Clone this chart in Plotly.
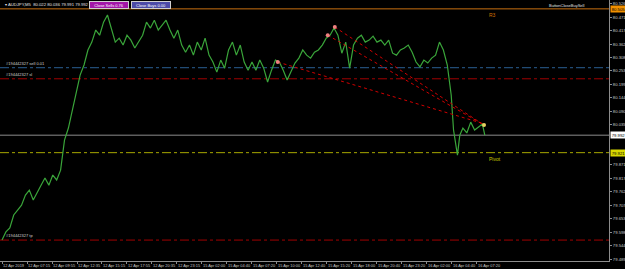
import plotly.graph_objects as go

# ---- data -------------------------------------------------------------
bar_index = [0, 5, 10, 15, 20, 25, 30, 35, 40, 45, 50, 55, 60, 65, 70, 75, 80, 85, 90, 95,
             100, 105, 110, 115, 120, 125, 130, 135, 140, 145, 150, 155, 160, 165, 170, 175,
             180, 185, 190, 195, 200, 205, 210, 215, 220, 225, 230, 235, 240, 245, 250, 255,
             260, 265, 270, 275, 280, 285, 290, 295, 300, 305, 310, 315, 320, 325, 330, 335,
             340, 345, 350, 355, 360, 365, 370, 375, 380, 385, 390, 395, 400, 405, 410, 415,
             420, 425, 430, 435, 440, 445, 450, 455, 460, 465, 470, 475, 480, 485, 490, 495,
             500, 505, 510, 515, 520, 525, 530, 535, 540, 545, 550, 555, 560, 565, 570, 575,
             578, 581, 583, 586, 590, 595, 600, 605, 610, 615, 618]
close = [79.566, 79.599, 79.615, 79.668, 79.688, 79.708, 79.749, 79.769, 79.729, 79.761,
         79.789, 79.818, 79.789, 79.830, 79.810, 79.850, 79.972, 80.021, 80.094, 80.155,
         80.236, 80.277, 80.338, 80.370, 80.419, 80.398, 80.451, 80.480, 80.419, 80.370,
         80.386, 80.358, 80.398, 80.378, 80.346, 80.370, 80.398, 80.451, 80.427, 80.459,
         80.419, 80.439, 80.459, 80.419, 80.386, 80.419, 80.358, 80.329, 80.358, 80.317,
         80.370, 80.338, 80.386, 80.317, 80.289, 80.248, 80.297, 80.264, 80.338, 80.370,
         80.317, 80.358, 80.289, 80.256, 80.289, 80.256, 80.297, 80.264, 80.208, 80.256,
         80.297, 80.289, 80.256, 80.216, 80.248, 80.285, 80.305, 80.338, 80.317, 80.305,
         80.329, 80.338, 80.358, 80.386, 80.398, 80.427, 80.398, 80.325, 80.370, 80.264,
         80.358, 80.386, 80.398, 80.370, 80.378, 80.394, 80.370, 80.378, 80.358, 80.378,
         80.325, 80.317, 80.338, 80.346, 80.358, 80.329, 80.289, 80.269, 80.297, 80.285,
         80.305, 80.317, 80.370, 80.338, 80.277, 80.155, 80.013, 79.940, 79.911, 79.992,
         80.021, 80.001, 80.045, 80.013, 80.025, 80.037, 79.992]

x_tick_index = [0, 32, 64, 96, 128, 160, 192, 224, 256, 288, 320, 352, 384, 416, 448, 480,
                512, 544, 576, 608]
x_tick_labels = ["12 Apr 2019", "12 Apr 07:15", "12 Apr 09:55", "12 Apr 12:35", "12 Apr 15:15",
                 "12 Apr 17:55", "12 Apr 20:35", "12 Apr 23:15", "15 Apr 02:00", "15 Apr 04:40",
                 "15 Apr 07:20", "15 Apr 10:00", "15 Apr 12:40", "15 Apr 15:20", "15 Apr 18:00",
                 "15 Apr 20:40", "15 Apr 23:20", "16 Apr 02:00", "16 Apr 04:40", "16 Apr 07:20"]
# labels hidden behind the price tags (79.926, 79.980) are left out, as in the reference
y_ticks = [79.489, 79.544, 79.598, 79.653, 79.707, 79.762, 79.817, 79.871,
           80.035, 80.090, 80.144, 80.199, 80.253, 80.308, 80.362, 80.417, 80.471, 80.526]

# horizontal level lines
level_names = ["R3", "sell", "sl", "bid", "Pivot", "tp"]
level_prices = [80.505, 80.266, 80.221, 79.992, 79.921, 79.566]

# trade lines (open -> close)
trade_open_idx = [353, 417, 426]
trade_open_price = [80.289, 80.398, 80.431]
trade_close_idx = [614, 615, 617]
trade_close_price = [80.041, 80.037, 80.033]

header_ohlc = [80.022, 80.036, 79.991, 79.992]
close_sells = 0.76
close_buys = 0.00

# ---- layout helpers ---------------------------------------------------
W, H = 625, 269
ML, MR, MT, MB = 0, 16, 0, 8
PW, PH = W - ML - MR, H - MT - MB
FONT = "Liberation Sans"
TXT = "#c8c8c8"


def px(xp):
    return xp / PW


def py(yp):
    return 1 - yp / PH


fig = go.Figure()

level_style = {
    "R3": dict(color="#c87010", width=1, dash="solid"),
    "sell": dict(color="#2a5f92", width=1, dash="dashdot"),
    "sl": dict(color="#a00000", width=1, dash="dashdot"),
    "bid": dict(color="#8c8c8c", width=1, dash="solid"),
    "Pivot": dict(color="#a8a800", width=1, dash="dashdot"),
    "tp": dict(color="#a00000", width=1, dash="dashdot"),
}
for name, p in zip(level_names, level_prices):
    fig.add_hline(y=p, line=level_style[name], layer="below")

# price line
fig.add_trace(go.Scatter(x=bar_index, y=close, mode="lines",
                         line=dict(color="#3aa53a", width=1.2), hoverinfo="skip"))

# trade lines
for oi, op, ci, cp in zip(trade_open_idx, trade_open_price, trade_close_idx, trade_close_price):
    fig.add_trace(go.Scatter(x=[oi, ci], y=[op, cp], mode="lines",
                             line=dict(color="#d00000", width=1, dash="dot"), hoverinfo="skip"))
fig.add_trace(go.Scatter(x=trade_open_idx, y=trade_open_price, mode="markers",
                         marker=dict(color="#f08080", size=4), hoverinfo="skip"))
fig.add_trace(go.Scatter(x=[trade_close_idx[-1]], y=[trade_close_price[-1]], mode="markers",
                         marker=dict(color="#e8d060", size=4), hoverinfo="skip"))

ann = []
ann.append(dict(x=px(3), y=py(4), xref="paper", yref="paper", xanchor="left", yanchor="middle",
                text="▾ AUDJPY,M5  " + " ".join(f"{v:.3f}" for v in header_ohlc),
                showarrow=False, font=dict(family=FONT, size=4.2, color="#e0e0e0")))
ann.append(dict(x=px(109), y=py(4.5), xref="paper", yref="paper", xanchor="center", yanchor="middle",
                text=f"Close Sells {close_sells:.2f}", showarrow=False, width=38, height=6,
                bgcolor="#a316a8", bordercolor="#d0d0d0", borderwidth=1, borderpad=0,
                font=dict(family=FONT, size=4, color="#ffffff")))
ann.append(dict(x=px(151), y=py(4.5), xref="paper", yref="paper", xanchor="center", yanchor="middle",
                text=f"Close Buys {close_buys:.2f}", showarrow=False, width=38, height=6,
                bgcolor="#4c4aa8", bordercolor="#d0d0d0", borderwidth=1, borderpad=0,
                font=dict(family=FONT, size=4, color="#ffffff")))
ann.append(dict(x=px(586), y=py(5), xref="paper", yref="paper", xanchor="right", yanchor="middle",
                text="ButtonCloseBuySell", showarrow=False,
                font=dict(family=FONT, size=4, color="#e0e0e0")))

lvl = dict(zip(level_names, level_prices))
ann.append(dict(x=px(487), y=lvl["R3"], xref="paper", yref="y", xanchor="left", yanchor="top",
                text="R3", showarrow=False, yshift=-1, font=dict(family=FONT, size=5, color="#d07000")))
ann.append(dict(x=px(487), y=lvl["Pivot"], xref="paper", yref="y", xanchor="left", yanchor="top",
                text="Pivot", showarrow=False, yshift=-1, font=dict(family=FONT, size=5, color="#c8c800")))
for key, label in [("sell", "#194442327 sell 0.01"), ("sl", "#194442327 sl"), ("tp", "#194442327 tp")]:
    ann.append(dict(x=px(4), y=lvl[key], xref="paper", yref="y", xanchor="left", yanchor="bottom",
                    text=label, showarrow=False,
                    font=dict(family=FONT, size=4, color="#d0d0d0")))

for key, bg in [("R3", "#f09000"), ("bid", "#ffffff"), ("Pivot", "#d8d800")]:
    ann.append(dict(x=1, y=lvl[key], xref="paper", yref="y", xanchor="left", yanchor="middle",
                    text=f"{lvl[key]:.3f}", showarrow=False, xshift=1, width=15, height=6,
                    bgcolor=bg, borderpad=0, font=dict(family=FONT, size=4.2, color="#000000")))

fig.update_layout(
    width=W, height=H, margin=dict(l=ML, r=MR, t=MT, b=MB),
    paper_bgcolor="#000000", plot_bgcolor="#000000", showlegend=False,
    annotations=ann,
    xaxis=dict(range=[-2.56, 777], showgrid=False, zeroline=False,
               showline=True, linecolor="#8c8c8c", linewidth=1,
               tickmode="array", tickvals=x_tick_index, ticktext=x_tick_labels,
               ticks="outside", ticklen=2, tickcolor="#8c8c8c", tickangle=0,
               ticklabelposition="outside right",
               tickfont=dict(family=FONT, size=3.9, color=TXT)),
    yaxis=dict(range=[79.481, 80.541], side="right", showgrid=False, zeroline=False,
               showline=True, linecolor="#8c8c8c", linewidth=1,
               tickmode="array", tickvals=y_ticks, ticktext=[f"{v:.3f}" for v in y_ticks],
               ticks="outside", ticklen=2, tickcolor="#8c8c8c",
               tickfont=dict(family=FONT, size=4.2, color=TXT)),
)

fig.write_html("out.html")
